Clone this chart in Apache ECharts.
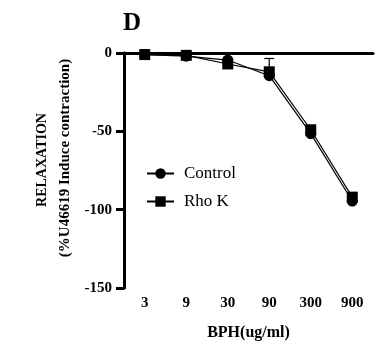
<!DOCTYPE html>
<html><head><meta charset="utf-8">
<script src="https://cdn.jsdelivr.net/npm/echarts@6/dist/echarts.min.js"></script>
<style>html,body{margin:0;padding:0;background:#fff}#c{width:389px;height:363px}</style>
</head><body><div id="c"></div>
<script>
const categories = ['3','9','30','90','300','900'];
const controlValues = [-1, -2, -4.5, -14.5, -51.5, -94.5];
const controlErrors = [0.5, 0.5, 4.5, 1, 1, 1];
const rhoKValues = [-1, -1.5, -7, -12, -49, -92];
const rhoKErrors = [0.5, 0.5, 1, 8.5, 1.5, 1];
const yTicks = [0, -50, -100, -150];

const serif = 'Liberation Serif';
function errSeries(vals, errs) {
  return {
    type: 'custom', silent: true, z: 1,
    data: vals.map((v, i) => [i, v, errs[i]]),
    renderItem: function (params, api) {
      const i = api.value(0), v = api.value(1), e = api.value(2);
      const top = api.coord([i, v + e]);
      const mid = api.coord([i, v]);
      return { type: 'group', children: [
        { type: 'line', shape: { x1: mid[0], y1: mid[1], x2: top[0], y2: top[1] }, style: { stroke: '#000', lineWidth: 1.2 } },
        { type: 'line', shape: { x1: top[0] - 5, y1: top[1], x2: top[0] + 5, y2: top[1] }, style: { stroke: '#000', lineWidth: 1.2 } }
      ]};
    }
  };
}
const chart = echarts.init(document.getElementById('c'));
chart.setOption({
  animation: false,
  title: { text: 'D', left: 118, top: 6, textStyle: { fontFamily: serif, fontWeight: 'bold', fontSize: 25, color: '#000' } },
  grid: { left: 124, right: 16, top: 53, bottom: 75 },
  legend: {
    orient: 'vertical', left: 141, top: 160, itemGap: 11, itemWidth: 27, itemHeight: 13,
    textStyle: { fontFamily: serif, fontSize: 17, color: '#000', padding: [0, 0, 0, 5] },
    data: ['Control', 'Rho K']
  },
  xAxis: {
    type: 'category', data: categories, boundaryGap: true,
    name: 'BPH(ug/ml)', nameLocation: 'middle', nameGap: 37,
    nameTextStyle: { fontFamily: serif, fontWeight: 'bold', fontSize: 16, color: '#000' },
    axisLine: { lineStyle: { color: '#000', width: 3 } },
    axisTick: { alignWithLabel: true, length: 6, lineStyle: { width: 3, color: '#000' } },
    axisLabel: { margin: 8, fontFamily: serif, fontWeight: 'bold', fontSize: 15, color: '#000' }
  },
  yAxis: {
    type: 'value', min: -150, max: 0, interval: 50,
    axisLine: { show: true, lineStyle: { color: '#000', width: 3 } },
    axisTick: { show: true, length: 8, lineStyle: { width: 3, color: '#000' } },
    axisLabel: { margin: 12, fontFamily: serif, fontWeight: 'bold', fontSize: 15, color: '#000',
      formatter: v => yTicks.includes(v) ? String(v) : '' },
    splitLine: { show: false }
  },
  graphic: [{
    type: 'text', x: 42, y: 160, rotation: Math.PI / 2,
    style: { text: 'RELAXATION', fontFamily: serif, fontWeight: 'bold', fontSize: 14, fill: '#000', align: 'center', verticalAlign: 'middle' }
  }, {
    type: 'text', x: 65, y: 158, rotation: Math.PI / 2,
    style: { text: '(%U46619 Induce contraction)', fontFamily: serif, fontWeight: 'bold', fontSize: 15, fill: '#000', align: 'center', verticalAlign: 'middle' }
  }],
  series: [
    errSeries(controlValues, controlErrors),
    errSeries(rhoKValues, rhoKErrors),
    {
      name: 'Control', type: 'line', data: controlValues, symbol: 'circle', symbolSize: 11, z: 3,
      lineStyle: { color: '#000', width: 1.2 }, itemStyle: { color: '#000' },
      markLine: { silent: true, symbol: 'none', label: { show: false },
        lineStyle: { type: [2, 6], color: '#000', width: 2 }, data: [{ yAxis: 0 }] }
    },
    {
      name: 'Rho K', type: 'line', data: rhoKValues, symbol: 'rect', symbolSize: 11, z: 3,
      lineStyle: { color: '#000', width: 1.2 }, itemStyle: { color: '#000' }
    }
  ]
});
</script></body></html>
